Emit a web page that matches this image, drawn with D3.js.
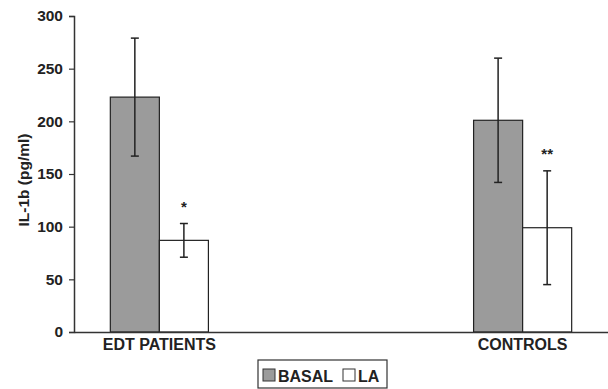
<!DOCTYPE html>
<html>
<head>
<meta charset="utf-8">
<script src="https://cdn.jsdelivr.net/npm/d3@7"></script>
<style>
  body { margin: 0; background: #fff; }
  text { font-family: "Liberation Sans", Arial, sans-serif; font-weight: bold; fill: #222; }
</style>
</head>
<body>
<div id="chart"></div>
<script>
var groups = ["EDT PATIENTS", "CONTROLS"]
var series = ["BASAL", "LA"]
var basalMeans = [223, 201]
var basalErr = [56, 59]
var laMeans = [87, 99]
var laErr = [16, 54]
var laMarks = ["*", "**"]
var yTicks = [0, 50, 100, 150, 200, 250, 300]

function drawChart(target) { //{{{
  var W = 608, H = 389
  var margin = { top: 16, right: 0, bottom: 57, left: 74 }
  var width = W - margin.left - margin.right,
      height = H - margin.top - margin.bottom

  var svg = d3.select(target).append("svg")
    .attr("width", W)
    .attr("height", H)
  var g = svg.append("g")
    .attr("transform", "translate(" + margin.left + "," + margin.top + ")")

  var x0 = d3.scaleBand()
    .domain(groups)
    .range([0, width])
    .paddingInner(0.73)
    .paddingOuter(0.1)
  var x1 = d3.scaleBand()
    .domain(series)
    .range([0, x0.bandwidth()])
  var y = d3.scaleLinear()
    .domain([0, 300])
    .range([height, 0])

  var fills = { BASAL: "#9b9b9b", LA: "#ffffff" }

  var rows = []
  groups.forEach((grp, i) => {
    rows.push({ grp: grp, s: "BASAL", v: basalMeans[i], e: basalErr[i], mark: "" })
    rows.push({ grp: grp, s: "LA", v: laMeans[i], e: laErr[i], mark: laMarks[i] })
  })

  // bars
  g.selectAll("rect.bar")
      .data(rows)
    .enter().append("rect")
      .attr("class", "bar")
      .attr("x", d => x0(d.grp) + x1(d.s))
      .attr("y", d => y(d.v))
      .attr("width", x1.bandwidth())
      .attr("height", d => height - y(d.v))
      .attr("fill", d => fills[d.s])
      .attr("stroke", "#222")
      .attr("stroke-width", 1.2)

  // error bars
  var eb = g.selectAll("g.err")
      .data(rows)
    .enter().append("g")
      .attr("class", "err")
      .attr("transform", d => "translate(" + (x0(d.grp) + x1(d.s) + x1.bandwidth() / 2) + ",0)")
  eb.append("line")
    .attr("y1", d => y(d.v + d.e))
    .attr("y2", d => y(d.v - d.e))
    .attr("stroke", "#222").attr("stroke-width", 1.5)
  eb.selectAll("line.cap")
      .data(d => [d.v + d.e, d.v - d.e])
    .enter().append("line")
      .attr("class", "cap")
      .attr("x1", -4).attr("x2", 4)
      .attr("y1", v => y(v)).attr("y2", v => y(v))
      .attr("stroke", "#222").attr("stroke-width", 1.5)

  // significance marks
  eb.filter(d => d.mark)
    .append("text")
      .attr("y", d => y(d.v + d.e) - 12)
      .attr("text-anchor", "middle")
      .style("font-size", "15px")
      .text(d => d.mark)

  var fontStyle = sel => sel
    .style("font-family", "Liberation Sans, Arial, sans-serif")
    .style("font-weight", "bold")
    .attr("fill", "#222")

  // y axis
  var yAxis = g.append("g")
    .call(d3.axisLeft(y).tickValues(yTicks).tickSize(5).tickPadding(6))
  yAxis.select(".domain").attr("stroke", "#333").attr("stroke-width", 1.5)
  yAxis.selectAll(".tick line").attr("stroke", "#333").attr("stroke-width", 1.2)
  yAxis.selectAll(".tick text").call(fontStyle).style("font-size", "15.5px")

  // x axis
  var xAxis = g.append("g")
    .attr("transform", "translate(0," + height + ")")
    .call(d3.axisBottom(x0).tickSize(0).tickPadding(7))
  xAxis.select(".domain").attr("stroke", "#333").attr("stroke-width", 1.5)
  xAxis.selectAll(".tick text").call(fontStyle).style("font-size", "16px")

  // y label
  svg.append("text")
    .attr("transform", "translate(29," + (margin.top + 164) + ") rotate(-90)")
    .attr("text-anchor", "middle")
    .style("font-size", "15.5px")
    .text("IL-1b (pg/ml)")

  // legend
  var lg = svg.append("g").attr("transform", "translate(258,360)")
  lg.append("rect")
    .attr("width", 129).attr("height", 28)
    .attr("fill", "#fff").attr("stroke", "#333").attr("stroke-width", 1.2)
  var items = lg.selectAll("g.item")
      .data(series)
    .enter().append("g")
      .attr("class", "item")
      .attr("transform", (d, i) => "translate(" + (5 + i * 80) + ",9)")
  items.append("rect")
    .attr("width", 12).attr("height", 12)
    .attr("fill", d => fills[d])
    .attr("stroke", "#333").attr("stroke-width", 1)
  items.append("text")
    .attr("x", 15).attr("y", 12.5)
    .style("font-size", "16px")
    .text(d => d)
} //}}}

drawChart("#chart")
</script>
</body>
</html>
